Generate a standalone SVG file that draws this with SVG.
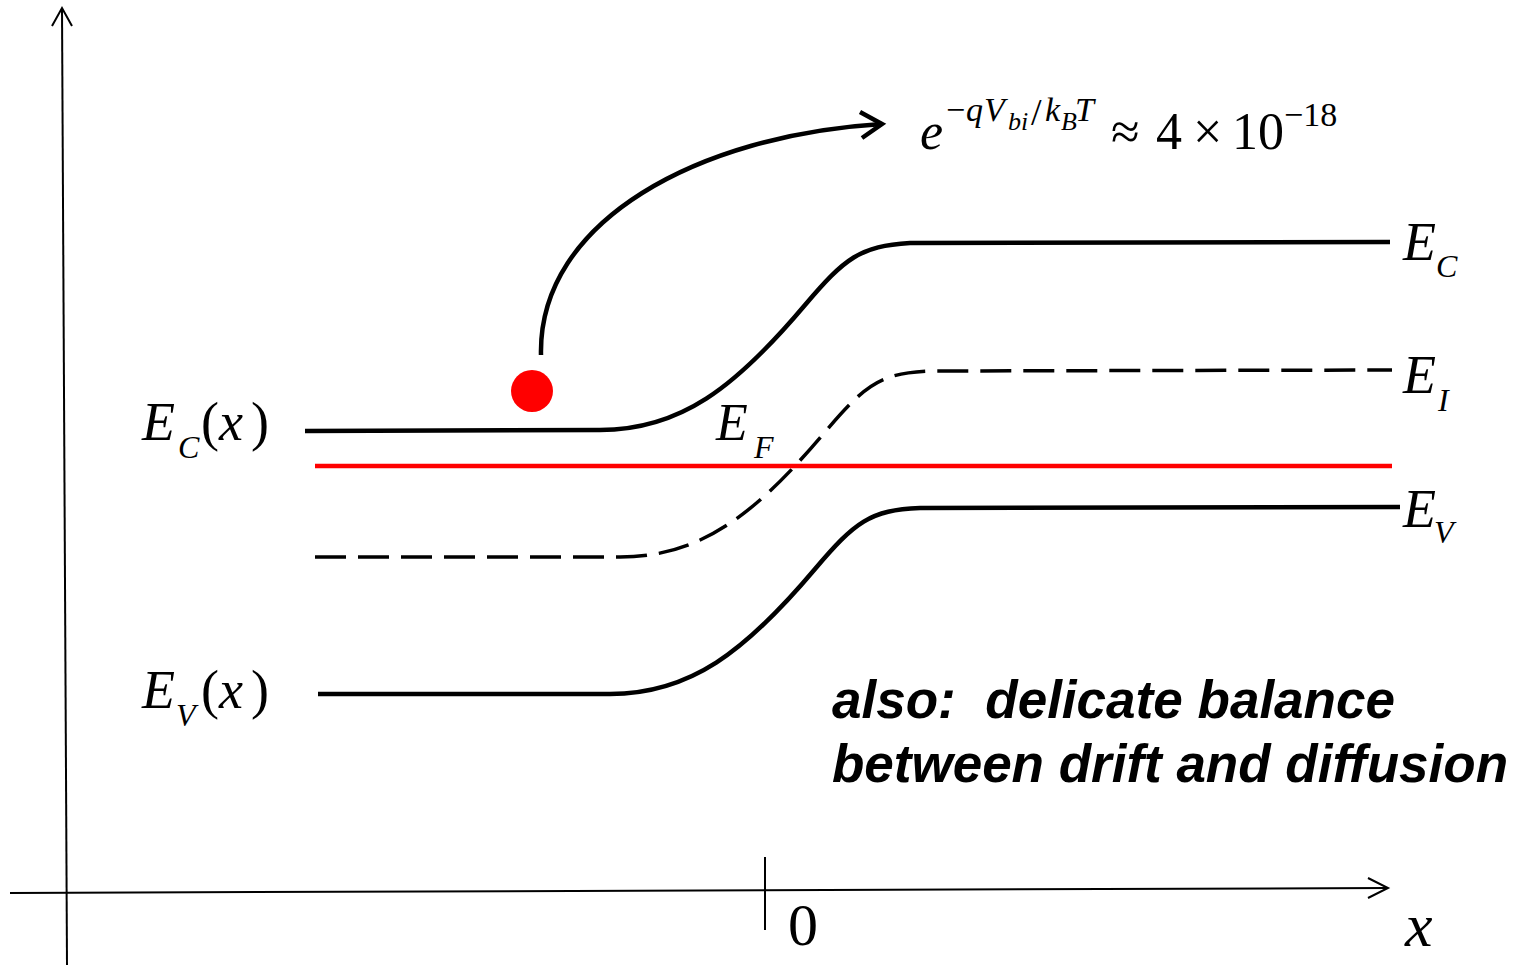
<svg xmlns="http://www.w3.org/2000/svg" width="1517" height="966" viewBox="0 0 1517 966">
<style>
.ax{stroke:#000;stroke-width:2;fill:none}
.band{stroke:#000;stroke-width:4.5;fill:none}
.dash{stroke:#000;stroke-width:3.5;fill:none;stroke-dasharray:31 12}
.m{font-family:"Liberation Serif","Times New Roman",serif;fill:#000}
.i{font-style:italic}
.b{font-family:"Liberation Sans",Arial,sans-serif;font-weight:bold;font-style:italic;font-size:53px;fill:#000;white-space:pre}
</style>
<rect width="1517" height="966" fill="#fff"/>
<g id="axes">
<path class="ax" d="M67,965 L62,9"/>
<path class="ax" d="M52,26 L62,8 L72,26"/>
<path class="ax" d="M10,893 L1387,888"/>
<path class="ax" d="M1368,878 L1388,888 L1368,898"/>
<path class="ax" d="M765,857 L765,930"/>
<text class="m" x="788" y="945" font-size="60">0</text>
<text class="m i" x="1405" y="946" font-size="62">x</text>
</g>
<g id="bands">
<path id="EC" class="band" d="M305,431 L600,430 C680,430 735,388 805,305 C845,258 860,246 910,243 L1390,242"/>
<path id="EI" class="dash" d="M315,557 L620,557 C700,557 755,515 825,432 C865,385 880,373 930,371 L1392,370"/>
<path id="EF" d="M315,466 L1392,466" stroke="#f00" stroke-width="4.5" fill="none"/>
<path id="EV" class="band" d="M318,694 L610,694 C690,694 745,652 815,569 C855,522 870,510 920,508 L1400,507"/>
</g>
<g id="electron">
<circle cx="532" cy="391" r="21" fill="#f00"/>
</g>
<g id="connectors">
<path class="band" d="M541,355 C538,220 700,135 882,124"/>
<path class="band" d="M860,112 L882,124 L862,138"/>
</g>
<g id="labels">
<text class="m" y="440" font-size="54"><tspan class="i" x="142">E</tspan><tspan class="i" x="178" y="458" font-size="32">C</tspan><tspan x="201" y="440">(</tspan><tspan class="i">x</tspan><tspan x="251">)</tspan></text>
<text class="m" y="708" font-size="54"><tspan class="i" x="142">E</tspan><tspan class="i" x="176" y="726" font-size="32">V</tspan><tspan x="201" y="708">(</tspan><tspan class="i">x</tspan><tspan x="251">)</tspan></text>
<text class="m" y="440" font-size="52"><tspan class="i" x="716">E</tspan><tspan class="i" x="754" y="458" font-size="32">F</tspan></text>
<text class="m" y="260" font-size="54"><tspan class="i" x="1403">E</tspan><tspan class="i" x="1436" y="277" font-size="32">C</tspan></text>
<text class="m" y="393" font-size="54"><tspan class="i" x="1403">E</tspan><tspan class="i" x="1438" y="411" font-size="32">I</tspan></text>
<text class="m" y="527" font-size="54"><tspan class="i" x="1403">E</tspan><tspan class="i" x="1434" y="543" font-size="32">V</tspan></text>
</g>
<g id="formula">
<text class="m" font-size="52"><tspan class="i" x="920" y="149">e</tspan><tspan x="946" y="121" font-size="34">−</tspan><tspan class="i" x="966" y="121" font-size="34">q</tspan><tspan class="i" x="984" y="121" font-size="34">V</tspan><tspan class="i" x="1008" y="130" font-size="26">bi</tspan><tspan x="1031" y="125" font-size="38">/</tspan><tspan class="i" x="1045" y="121" font-size="34">k</tspan><tspan class="i" x="1061" y="130" font-size="26">B</tspan><tspan class="i" x="1075" y="121" font-size="34">T</tspan><tspan x="1111" y="149">≈</tspan><tspan x="1156" y="149">4</tspan><tspan x="1193" y="149">×</tspan><tspan x="1232" y="149">10</tspan><tspan x="1284" y="126" font-size="34">−18</tspan></text>
</g>
<g id="note">
<text class="b" x="832" y="718" textLength="563" lengthAdjust="spacingAndGlyphs" xml:space="preserve">also:  delicate balance</text>
<text class="b" x="832" y="782" textLength="676" lengthAdjust="spacingAndGlyphs">between drift and diffusion</text>
</g>
</svg>
